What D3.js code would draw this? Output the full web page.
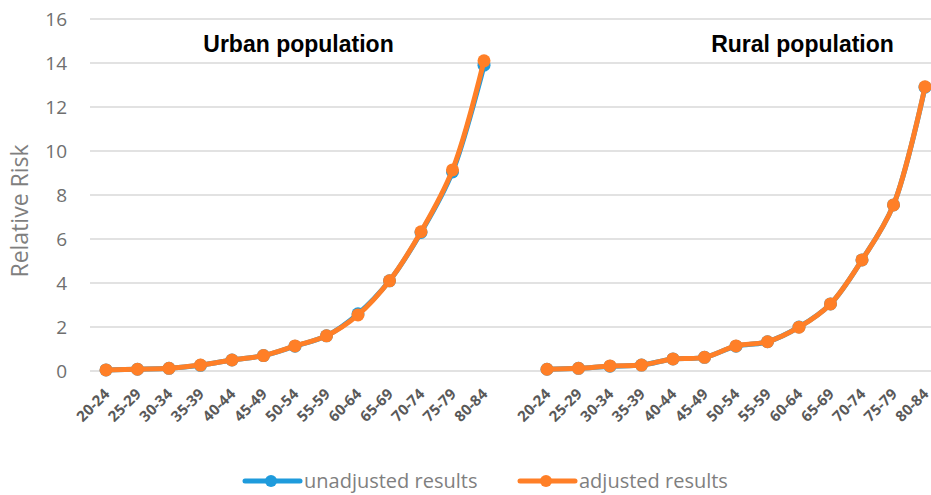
<!DOCTYPE html>
<html>
<head>
<meta charset="utf-8">
<script src="https://cdn.jsdelivr.net/npm/d3@7"></script>
<style>
  body { margin: 0; background: #fff; }
  svg { display: block; }
</style>
</head>
<body>
<svg id="chart"></svg>
<script>
// age groups shared by both panels
var ageGroups = ['20-24','25-29','30-34','35-39','40-44','45-49','50-54','55-59','60-64','65-69','70-74','75-79','80-84'];

// urban population
var urbanUnadjusted = [0.05, 0.08, 0.12, 0.26, 0.5, 0.7, 1.13, 1.6, 2.6, 4.1, 6.3, 9.05, 13.9];
var urbanAdjusted   = [0.05, 0.08, 0.12, 0.27, 0.5, 0.7, 1.14, 1.6, 2.55, 4.1, 6.33, 9.14, 14.1];

// rural population
var ruralUnadjusted = [0.08, 0.12, 0.22, 0.27, 0.55, 0.62, 1.13, 1.33, 2.0, 3.05, 5.05, 7.55, 12.9];
var ruralAdjusted   = [0.08, 0.12, 0.23, 0.27, 0.55, 0.62, 1.14, 1.33, 1.99, 3.05, 5.05, 7.55, 12.92];

var yTicks = [0, 2, 4, 6, 8, 10, 12, 14, 16];
var panelTitles = ['Urban population', 'Rural population'];
var legendLabels = ['unadjusted results', 'adjusted results'];

var width = 931;
var height = 495;
var blue = '#1f9bdc';
var orange = '#ff7f27';

var svg = d3.select('#chart')
    .attr('width', width)
    .attr('height', height);

// one category axis: 13 urban slots, a blank slot, 13 rural slots
var slots = d3.range(ageGroups.length * 2 + 1);
var x = d3.scalePoint().domain(slots).range([106, 925]);
var y = d3.scaleLinear().domain([0, 16]).range([371, 19]);

function slotLabel(i) {
    if (i < ageGroups.length) return ageGroups[i];
    if (i === ageGroups.length) return '';
    return ageGroups[i - ageGroups.length - 1];
}

// gridlines
svg.append('g')
    .selectAll('line')
    .data(yTicks)
    .enter().append('line')
    .attr('x1', 90)
    .attr('x2', width)
    .attr('y1', function(d) { return y(d); })
    .attr('y2', function(d) { return y(d); })
    .attr('stroke', '#d9d9d9')
    .attr('stroke-width', 1.5);

// y axis labels
var yAxis = svg.append('g')
    .attr('transform', 'translate(67,0)')
    .call(d3.axisLeft(y).tickValues(yTicks).tickSize(0).tickPadding(0));
yAxis.select('.domain').remove();
yAxis.selectAll('text')
    .attr('fill', '#6f6f6f')
    .style('font-family', 'Open Sans, sans-serif')
    .style('font-size', '19px');

svg.append('text')
    .attr('transform', 'translate(28,' + 211 + ') rotate(-90)')
    .attr('text-anchor', 'middle')
    .attr('fill', '#7f7f7f')
    .style('font-family', 'Open Sans, sans-serif')
    .style('font-size', '23px')
    .text('Relative Risk');

// x axis labels
var xAxis = svg.append('g')
    .attr('transform', 'translate(0,' + y(0) + ')')
    .call(d3.axisBottom(x).tickFormat(slotLabel).tickSize(0).tickPadding(0));
xAxis.select('.domain').remove();
xAxis.selectAll('text')
    .attr('fill', '#595959')
    .attr('text-anchor', 'end')
    .attr('dy', 0)
    .attr('transform', 'translate(4,24) rotate(-45)')
    .style('font-family', 'Open Sans, sans-serif')
    .style('font-weight', 'bold')
    .style('font-size', '15px');

// panel titles
svg.append('g')
    .selectAll('text')
    .data(panelTitles)
    .enter().append('text')
    .attr('x', function(d, i) { return i === 0 ? 298.5 : 802.5; })
    .attr('y', 52)
    .attr('text-anchor', 'middle')
    .attr('fill', '#000')
    .style('font-family', 'Liberation Sans, Arial, sans-serif')
    .style('font-weight', 'bold')
    .style('font-size', '23px')
    .text(function(d) { return d; });

var line = d3.line()
    .x(function(d) { return x(d.slot); })
    .y(function(d) { return y(d.value); })
    .curve(d3.curveCatmullRom.alpha(0.5));

function toPoints(values, offset) {
    return values.map(function(v, i) { return { slot: i + offset, value: v }; });
}

var series = [
    { color: blue, panels: [toPoints(urbanUnadjusted, 0), toPoints(ruralUnadjusted, ageGroups.length + 1)] },
    { color: orange, panels: [toPoints(urbanAdjusted, 0), toPoints(ruralAdjusted, ageGroups.length + 1)] }
];

series.forEach(function(s) {
    var g = svg.append('g');
    s.panels.forEach(function(pts) {
        g.append('path')
            .datum(pts)
            .attr('d', line)
            .attr('fill', 'none')
            .attr('stroke', s.color)
            .attr('stroke-width', 5)
            .attr('stroke-linejoin', 'round');
        g.selectAll(null)
            .data(pts)
            .enter().append('circle')
            .attr('cx', function(d) { return x(d.slot); })
            .attr('cy', function(d) { return y(d.value); })
            .attr('r', 6.5)
            .attr('fill', s.color);
    });
});

// legend
var legend = svg.append('g')
    .selectAll('g')
    .data(legendLabels)
    .enter().append('g')
    .attr('transform', function(d, i) { return 'translate(' + (i === 0 ? 245 : 520) + ',481)'; });

legend.append('line')
    .attr('x1', 0).attr('x2', 55)
    .attr('y1', 0).attr('y2', 0)
    .attr('stroke', function(d, i) { return i === 0 ? blue : orange; })
    .attr('stroke-width', 5)
    .attr('stroke-linecap', 'round');
legend.append('circle')
    .attr('cx', 26).attr('cy', 0).attr('r', 6)
    .attr('fill', function(d, i) { return i === 0 ? blue : orange; });
legend.append('text')
    .attr('x', 59)
    .attr('y', 7)
    .attr('fill', '#7f7f7f')
    .style('font-family', 'Open Sans, sans-serif')
    .style('font-size', '20px')
    .text(function(d) { return d; });
</script>
</body>
</html>
